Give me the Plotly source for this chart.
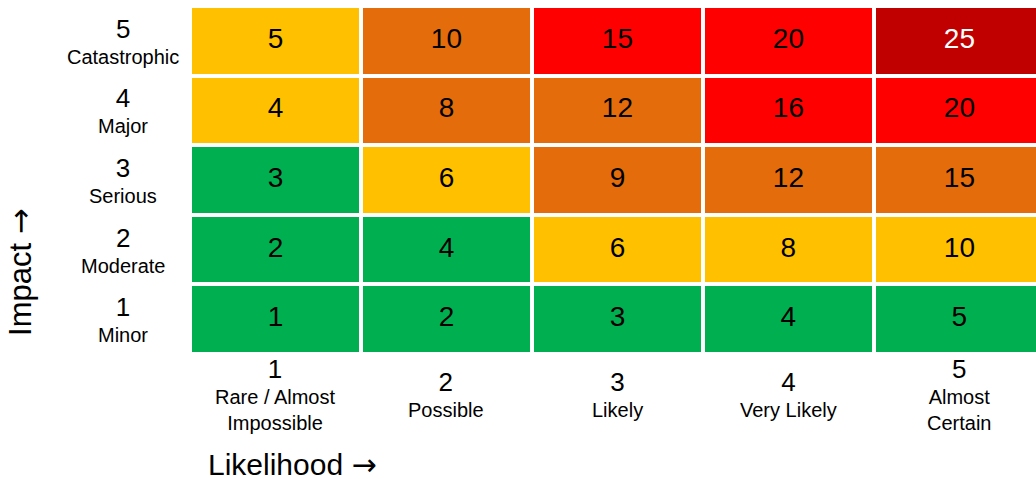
import plotly.graph_objects as go

# ---- data ----
likelihood = [1, 2, 3, 4, 5]
likelihood_names = ["Rare / Almost<br>Impossible", "Possible", "Likely", "Very Likely", "Almost<br>Certain"]
impact = [1, 2, 3, 4, 5]
impact_names = ["Minor", "Moderate", "Serious", "Major", "Catastrophic"]

# scores, rows = impact 1..5, cols = likelihood 1..5
scores = [
    [1, 2, 3, 4, 5],
    [2, 4, 6, 8, 10],
    [3, 6, 9, 12, 15],
    [4, 8, 12, 16, 20],
    [5, 10, 15, 20, 25],
]
# risk level per cell: 0 green, 1 yellow, 2 orange, 3 red, 4 dark red
levels = [
    [0, 0, 0, 0, 0],
    [0, 0, 1, 1, 1],
    [0, 1, 2, 2, 2],
    [1, 2, 2, 3, 3],
    [1, 2, 3, 3, 4],
]
level_colors = ["#00B050", "#FFC000", "#E46C0A", "#FF0000", "#C00000"]
text_colors = ["black", "black", "black", "black", "white"]

FONT = "Liberation Sans, Arial, sans-serif"
ARROW = "<span style='font-family:DejaVu Sans'>→</span>"

fig = go.Figure()
fig.add_trace(go.Heatmap(
    x=likelihood, y=impact, z=levels,
    zmin=0, zmax=4,
    colorscale=[[i / 4, c] for i, c in enumerate(level_colors)],
    showscale=False, xgap=4, ygap=4, hoverinfo="skip",
))

tx, ty, tt, tc = [], [], [], []
for r, imp in enumerate(impact):
    for c, lik in enumerate(likelihood):
        tx.append(lik)
        ty.append(imp)
        tt.append(str(scores[r][c]))
        tc.append(text_colors[levels[r][c]])
fig.add_trace(go.Scatter(
    x=tx, y=ty, text=tt, mode="text",
    textfont=dict(family=FONT, size=28, color=tc),
    hoverinfo="skip", showlegend=False,
))

annotations = []
for v, name in zip(impact, impact_names):
    annotations.append(dict(
        x=0, xref="paper", xshift=-69, xanchor="center",
        y=v, yref="y", yanchor="middle",
        text=f"<span style='font-size:26px'>{v}</span><br>{name}",
        showarrow=False, align="center",
        font=dict(family=FONT, size=20, color="black"),
    ))
for v, name in zip(likelihood, likelihood_names):
    annotations.append(dict(
        x=v, xref="x", xanchor="center",
        y=0, yref="paper", yshift=-42, yanchor="middle",
        text=f"<span style='font-size:26px'>{v}</span><br>{name}",
        showarrow=False, align="center",
        font=dict(family=FONT, size=20, color="black"),
    ))
annotations.append(dict(
    x=0, xref="paper", xshift=-172, xanchor="center",
    y=0.2326, yref="paper", yanchor="middle",
    text="Impact " + ARROW, textangle=-90, showarrow=False,
    font=dict(family=FONT, size=31, color="black"),
))
annotations.append(dict(
    x=0, xref="paper", xshift=14, xanchor="left",
    y=0, yref="paper", yshift=-112, yanchor="middle",
    text="Likelihood " + ARROW, showarrow=False,
    font=dict(family=FONT, size=30, color="black"),
))

fig.update_layout(
    width=1036, height=479,
    margin=dict(l=192, r=0, t=8, b=127),
    paper_bgcolor="white", plot_bgcolor="white",
    xaxis=dict(range=[0.512, 5.448], showticklabels=False, showgrid=False,
               zeroline=False, fixedrange=True),
    yaxis=dict(range=[0.529, 5.471], showticklabels=False, showgrid=False,
               zeroline=False, fixedrange=True),
    annotations=annotations,
    showlegend=False,
)

fig.write_html(
    "out.html",
    config={"displayModeBar": False},
    post_script="document.body.style.margin='0';document.body.style.overflow='hidden';",
)
